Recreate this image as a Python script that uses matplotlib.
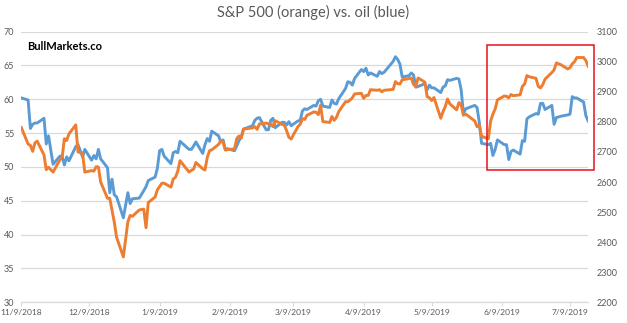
import numpy as np
import pandas as pd
import matplotlib
matplotlib.use("Agg")
import matplotlib.pyplot as plt
import matplotlib.patches as mpatches

plt.rcParams["font.family"] = ["Lato", "DejaVu Sans"]

# trading days, 11/9/2018 .. 7/17/2019
dates = [
    "2018-11-09", "2018-11-12", "2018-11-13", "2018-11-14", "2018-11-15", "2018-11-16",
    "2018-11-19", "2018-11-20", "2018-11-21", "2018-11-23", "2018-11-26", "2018-11-27",
    "2018-11-28", "2018-11-29", "2018-11-30", "2018-12-03", "2018-12-04", "2018-12-06",
    "2018-12-07", "2018-12-10", "2018-12-11", "2018-12-12", "2018-12-13", "2018-12-14",
    "2018-12-17", "2018-12-18", "2018-12-19", "2018-12-20", "2018-12-21", "2018-12-24",
    "2018-12-26", "2018-12-27", "2018-12-28", "2018-12-31", "2019-01-02", "2019-01-03",
    "2019-01-04", "2019-01-07", "2019-01-08", "2019-01-09", "2019-01-10", "2019-01-11",
    "2019-01-14", "2019-01-15", "2019-01-16", "2019-01-17", "2019-01-18", "2019-01-22",
    "2019-01-23", "2019-01-24", "2019-01-25", "2019-01-28", "2019-01-29", "2019-01-30",
    "2019-01-31", "2019-02-01", "2019-02-04", "2019-02-05", "2019-02-06", "2019-02-07",
    "2019-02-08", "2019-02-11", "2019-02-12", "2019-02-13", "2019-02-14", "2019-02-15",
    "2019-02-19", "2019-02-20", "2019-02-21", "2019-02-22", "2019-02-25", "2019-02-26",
    "2019-02-27", "2019-02-28", "2019-03-01", "2019-03-04", "2019-03-05", "2019-03-06",
    "2019-03-07", "2019-03-08", "2019-03-11", "2019-03-12", "2019-03-13", "2019-03-14",
    "2019-03-15", "2019-03-18", "2019-03-19", "2019-03-20", "2019-03-21", "2019-03-22",
    "2019-03-25", "2019-03-26", "2019-03-27", "2019-03-28", "2019-03-29", "2019-04-01",
    "2019-04-02", "2019-04-03", "2019-04-04", "2019-04-05", "2019-04-08", "2019-04-09",
    "2019-04-10", "2019-04-11", "2019-04-12", "2019-04-15", "2019-04-16", "2019-04-17",
    "2019-04-18", "2019-04-22", "2019-04-23", "2019-04-24", "2019-04-25", "2019-04-26",
    "2019-04-29", "2019-04-30", "2019-05-01", "2019-05-02", "2019-05-03", "2019-05-06",
    "2019-05-07", "2019-05-08", "2019-05-09", "2019-05-10", "2019-05-13", "2019-05-14",
    "2019-05-15", "2019-05-16", "2019-05-17", "2019-05-20", "2019-05-21", "2019-05-22",
    "2019-05-23", "2019-05-24", "2019-05-28", "2019-05-29", "2019-05-30", "2019-05-31",
    "2019-06-03", "2019-06-04", "2019-06-05", "2019-06-06", "2019-06-07", "2019-06-10",
    "2019-06-11", "2019-06-12", "2019-06-13", "2019-06-14", "2019-06-17", "2019-06-18",
    "2019-06-19", "2019-06-20", "2019-06-21", "2019-06-24", "2019-06-25", "2019-06-26",
    "2019-06-27", "2019-06-28", "2019-07-01", "2019-07-02", "2019-07-03", "2019-07-05",
    "2019-07-08", "2019-07-09", "2019-07-10", "2019-07-11", "2019-07-12", "2019-07-15",
    "2019-07-16", "2019-07-17",
]

spx = [
    2781, 2726, 2722, 2702, 2730, 2736, 2690, 2641, 2649, 2633, 2674, 2682,
    2744, 2738, 2760, 2790, 2700, 2696, 2633, 2638, 2636, 2651, 2650, 2600,
    2546, 2546, 2507, 2467, 2417, 2351, 2468, 2489, 2486, 2507, 2510, 2448,
    2532, 2550, 2574, 2585, 2596, 2596, 2583, 2610, 2616, 2636, 2671, 2633,
    2639, 2643, 2665, 2644, 2640, 2681, 2704, 2707, 2725, 2738, 2732, 2706,
    2708, 2710, 2744, 2753, 2746, 2776, 2780, 2784, 2775, 2793, 2796, 2793,
    2792, 2784, 2804, 2792, 2789, 2771, 2749, 2743, 2784, 2792, 2811, 2808,
    2822, 2833, 2832, 2824, 2855, 2801, 2798, 2818, 2805, 2815, 2834, 2867,
    2867, 2873, 2880, 2893, 2895, 2878, 2888, 2888, 2907, 2905, 2907, 2900,
    2905, 2908, 2934, 2927, 2926, 2940, 2944, 2946, 2924, 2918, 2946, 2932,
    2884, 2880, 2871, 2881, 2812, 2834, 2851, 2876, 2860, 2840, 2864, 2856,
    2822, 2826, 2803, 2784, 2789, 2752, 2744, 2803, 2826, 2843, 2873, 2886,
    2885, 2880, 2891, 2887, 2890, 2918, 2926, 2954, 2950, 2945, 2918, 2913,
    2924, 2942, 2964, 2973, 2996, 2990, 2976, 2980, 2993, 3000, 3014, 3014,
    3004, 2985,
]

oil = [
    60.2, 59.9, 55.7, 56.3, 56.5, 56.5, 57.2, 53.4, 54.6, 50.4, 51.6, 51.6,
    50.3, 51.5, 50.9, 53.0, 53.3, 51.5, 52.6, 51.0, 51.7, 51.2, 52.6, 51.2,
    49.9, 46.2, 48.2, 45.9, 45.6, 42.5, 46.2, 44.6, 45.3, 45.4, 46.5, 47.1,
    48.0, 48.5, 49.8, 52.4, 52.6, 51.6, 50.5, 52.1, 52.3, 52.1, 53.8, 52.6,
    52.6, 53.1, 53.7, 52.0, 53.3, 54.2, 53.8, 55.3, 54.6, 53.7, 54.0, 52.6,
    52.7, 52.4, 53.1, 53.9, 54.4, 55.6, 56.1, 56.9, 57.2, 57.3, 55.5, 55.5,
    56.9, 57.2, 55.8, 56.6, 56.6, 56.2, 56.7, 56.1, 56.8, 56.9, 58.3, 58.6,
    58.5, 59.1, 59.0, 59.8, 60.0, 59.0, 58.8, 59.9, 59.4, 59.3, 60.1, 61.6,
    62.6, 62.5, 62.1, 63.1, 64.4, 64.1, 64.6, 63.6, 63.9, 63.4, 64.1, 63.8,
    64.0, 65.6, 66.3, 65.9, 65.2, 63.3, 63.5, 63.9, 63.6, 61.8, 61.9, 62.3,
    61.4, 62.1, 61.7, 61.7, 61.0, 61.8, 62.0, 62.9, 62.8, 63.1, 63.0, 61.4,
    57.9, 58.6, 59.1, 58.8, 56.6, 53.5, 53.3, 53.5, 51.7, 52.6, 54.0, 53.3,
    53.3, 51.1, 52.3, 52.5, 51.9, 53.9, 53.8, 57.1, 57.4, 57.9, 57.8, 59.4,
    59.4, 58.5, 59.1, 56.3, 57.3, 57.5, 57.7, 57.8, 60.4, 60.2, 60.2, 59.6,
    57.6, 56.8,
]

tick_dates = ["2018-11-09", "2018-12-09", "2019-01-09", "2019-02-09", "2019-03-09",
              "2019-04-09", "2019-05-09", "2019-06-09", "2019-07-09"]
tick_labels = ["11/9/2018", "12/9/2018", "1/9/2019", "2/9/2019", "3/9/2019",
               "4/9/2019", "5/9/2019", "6/9/2019", "7/9/2019"]

x = pd.to_datetime(dates)
xt = pd.to_datetime(tick_dates)

GREY = "#595959"
GRID = "#D9D9D9"

fig = plt.figure(figsize=(6.27, 3.23), dpi=100)
ax = fig.add_axes([0.034, 0.064, 0.904, 0.838])
ax2 = ax.twinx()

ax.plot(x, oil, color="#5B9BD5", linewidth=2.1, solid_joinstyle="round")
ax2.plot(x, spx, color="#ED7D31", linewidth=2.1, solid_joinstyle="round")

ax.set_ylim(30, 70)
ax.set_yticks(np.arange(30, 71, 5))
ax2.set_ylim(2200, 3100)
ax2.set_yticks(np.arange(2200, 3101, 100))
ax.set_xlim(x[0], x[-1])
ax.set_xticks(xt)
ax.set_xticklabels(tick_labels)

ax.grid(axis="y", color=GRID, linewidth=0.9)
ax.set_axisbelow(True)
for a in (ax, ax2):
    for s in ("top", "left", "right"):
        a.spines[s].set_visible(False)
    a.spines["bottom"].set_color(GRID)
ax.tick_params(axis="y", length=0, pad=5, labelsize=6.5, labelcolor=GREY)
ax2.tick_params(axis="y", length=0, pad=6, labelsize=6.5, labelcolor=GREY)
ax.tick_params(axis="x", length=3, color=GRID, pad=2, labelsize=6, labelcolor=GREY)

fig.text(0.5, 0.962, "S&P 500 (orange) vs. oil (blue)", ha="center", va="center",
         fontsize=10.5, color=GREY)
fig.text(0.043, 0.857, "BullMarkets.co", ha="left", va="center",
         fontsize=8, fontweight="bold", color="black")

# red highlight box
fig.patches.append(mpatches.Rectangle((487 / 627, 1 - 170 / 323), 107 / 627, 125 / 323,
                                      transform=fig.transFigure, fill=False,
                                      edgecolor="#E8101E", linewidth=1.1))

fig.savefig("out.png", dpi=100)
